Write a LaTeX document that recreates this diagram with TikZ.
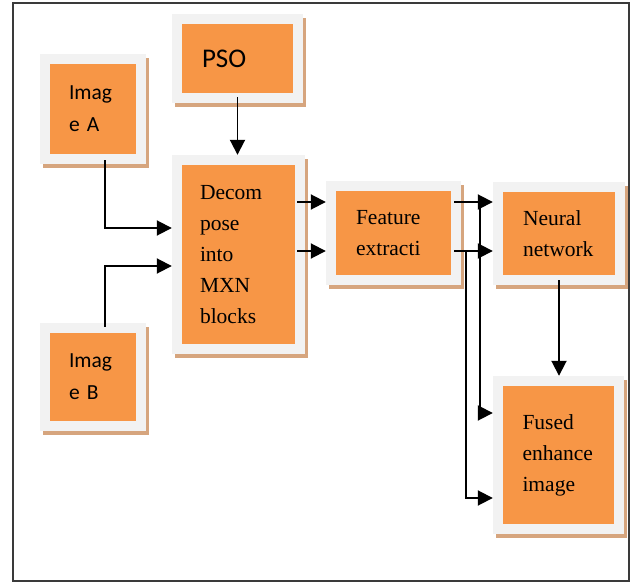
\documentclass[tikz,border=0pt]{standalone}
\usepackage{fontspec}
\setmainfont{Liberation Serif}
\newfontfamily\carlito{Carlito}
\usetikzlibrary{arrows.meta, shadows}
\definecolor{boxorange}{HTML}{F79646}
\definecolor{framegray}{HTML}{F2F2F2}
\definecolor{shadowtan}{HTML}{D6A57E}
\definecolor{edgegray}{HTML}{3A3A3A}

\begin{document}
\begin{tikzpicture}[
  x=1pt, y=-1pt,
  blk/.style={
    fill=framegray, inner sep=0pt, align=left,
    drop shadow={shadow xshift=3pt, shadow yshift=-4pt, fill=shadowtan, opacity=1},
    path picture={\fill[boxorange]
      ([shift={(10pt,-10pt)}]path picture bounding box.north west) rectangle
      ([shift={(-10pt,10pt)}]path picture bounding box.south east);},
    font=\fontsize{21.5}{31}\selectfont
  },
  sans/.style={font=\carlito\fontsize{21.5}{32}\selectfont},
  arr/.style={line width=1.9pt, -{Triangle[length=15pt, width=15pt]}},
]
  \useasboundingbox (0,0) rectangle (630,583);
  \draw[edgegray, line width=1.3pt] (13,3) rectangle (629,581);

  % --- inputs ---
  \node[blk, sans, minimum width=106pt, minimum height=110pt, text width=48pt] (imga) at (93,109) {Imag\\e A};
  \node[blk, sans, minimum width=106pt, minimum height=108pt, text width=48pt] (imgb) at (93,377) {Imag\\e B};
  \node[blk, font=\carlito\fontsize{27}{32}\selectfont, minimum width=131pt, minimum height=89pt, text width=71pt] (pso) at (237.5,58.5) {PSO};

  % --- processing chain ---
  \node[blk, minimum width=133pt, minimum height=199pt, text width=77pt] (dec) at (238.5,254.5) {Decom\\pose\\into\\MXN\\blocks};
  \node[blk, minimum width=135pt, minimum height=104pt, text width=75pt] (feat) at (393.5,233) {Feature\\extracti};
  \node[blk, minimum width=132pt, minimum height=103pt, text width=72pt] (neur) at (559,233.5) {Neural\\network};
  \node[blk, minimum width=131pt, minimum height=158pt, text width=72pt] (fus) at (558.5,455) {Fused\\enhance\\image};

  % --- connectors ---
  \coordinate (fin1) at ([yshift=31pt]feat.west);
  \coordinate (fin2) at ([yshift=-18pt]feat.west);
  \coordinate (fout1) at ([yshift=31pt]feat.east);
  \coordinate (fout2) at ([yshift=-18pt]feat.east);

  \draw[arr] ([yshift=6pt]pso.south) -- (pso.south |- dec.north);
  \draw[arr] ([xshift=12pt,yshift=4pt]imga.south) |- ([yshift=26.5pt]dec.west);
  \draw[arr] ([xshift=12pt,yshift=-4pt]imgb.north) |- ([yshift=-11.5pt]dec.west);
  \draw[arr] ([xshift=-8pt]dec.east |- fin1) -- (fin1);
  \draw[arr] ([xshift=-8pt]dec.east |- fin2) -- (fin2);
  \draw[arr] ([xshift=-7pt]fout1) -- (neur.west |- fout1);
  \draw[arr] ([xshift=-7pt]fout2) -- (neur.west |- fout2);
  \draw[arr] ([xshift=19pt]fout1) |- ([yshift=42pt]fus.west);
  \draw[arr] ([xshift=5pt]fout2) |- ([yshift=-43pt]fus.west);
  \draw[arr] ([yshift=5pt]neur.south) -- (neur.south |- fus.north);

\end{tikzpicture}
\end{document}
